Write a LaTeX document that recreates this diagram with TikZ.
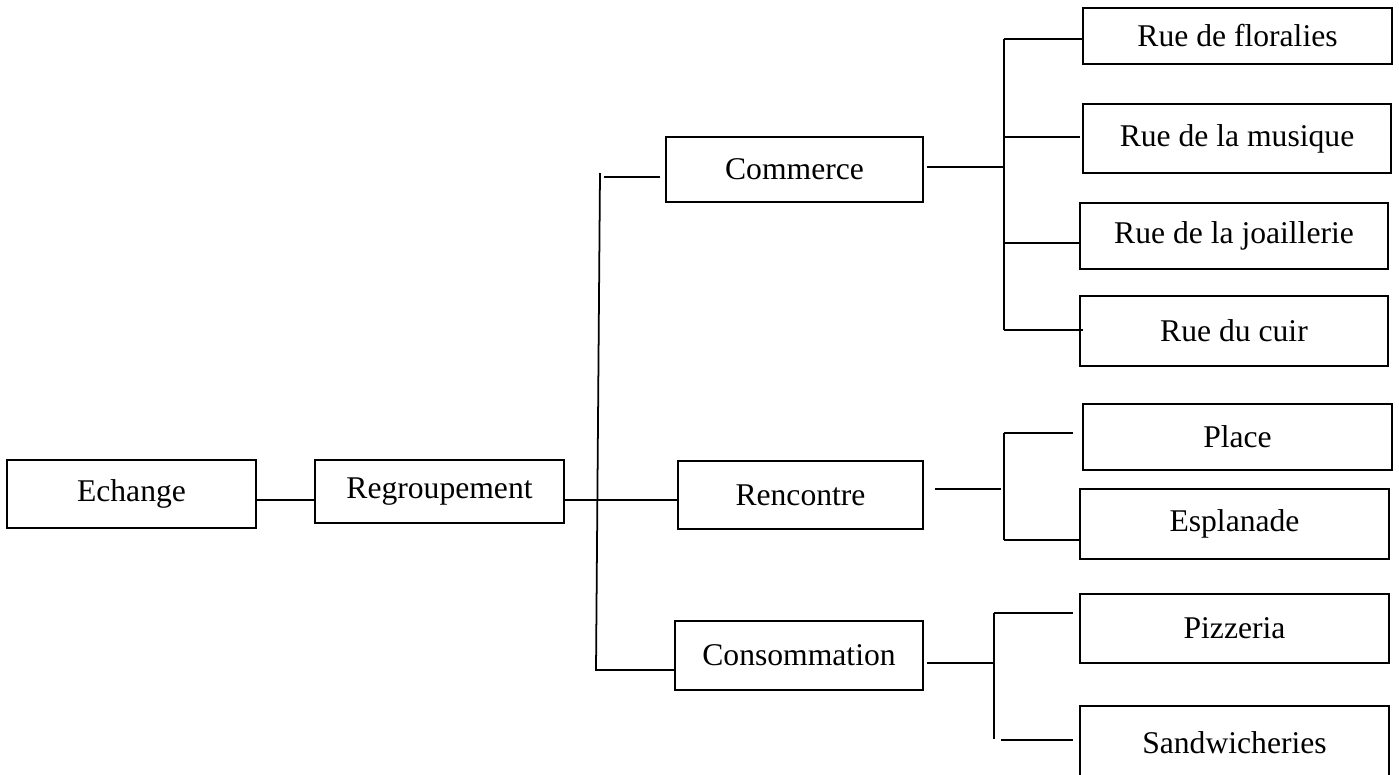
\documentclass[tikz,border=0pt]{standalone}
\usepackage{fontspec}
\setmainfont{Liberation Serif}
\tikzstyle{tBox} = [rectangle, draw=black, line width=1pt, text centered, inner sep=0pt, font=\fontsize{18}{22}\selectfont]
\tikzstyle{tLine} = [line width=1pt]

\begin{document}
\begin{tikzpicture}[x=0.02cm, y=-0.02cm]
    \useasboundingbox (0,0) rectangle (1399,774);

    \node (echange) [tBox, minimum width=4.98cm, minimum height=1.36cm] at (131.5,494) {Echange};
    \node (regroup) [tBox, minimum width=4.98cm, minimum height=1.26cm] at (439.5,491.5) {Regroupement};
    \node (commerce) [tBox, minimum width=5.14cm, minimum height=1.3cm] at (794.5,169.5) {Commerce};
    \node (rencontre) [tBox, minimum width=4.9cm, minimum height=1.36cm] at (800.5,495) {Rencontre};
    \node (consommation) [tBox, minimum width=4.96cm, minimum height=1.38cm] at (799,655.5) {Consommation};
    \node (floralies) [tBox, minimum width=6.18cm, minimum height=1.12cm] at (1237.5,36) {Rue de floralies};
    \node (musique) [tBox, minimum width=6.16cm, minimum height=1.38cm] at (1237,138.5) {Rue de la musique};
    \node (joaillerie) [tBox, minimum width=6.16cm, minimum height=1.32cm] at (1234,236) {Rue de la joaillerie};
    \node (cuir) [tBox, minimum width=6.16cm, minimum height=1.4cm] at (1234,331) {Rue du cuir};
    \node (place) [tBox, minimum width=6.18cm, minimum height=1.32cm] at (1237.5,437) {Place};
    \node (esplanade) [tBox, minimum width=6.18cm, minimum height=1.4cm] at (1234.5,524) {Esplanade};
    \node (pizzeria) [tBox, minimum width=6.18cm, minimum height=1.38cm] at (1234.5,628.5) {Pizzeria};
    \node (sandwich) [tBox, minimum width=6.18cm, minimum height=1.48cm] at (1234.5,743) {Sandwicheries};

    \coordinate (spineTop) at (600,173);
    \coordinate (spineBot) at (596,670);
    \coordinate (cmStub) at (604,177);
    \coordinate (cmOut) at (927,167);
    \coordinate (cmTop) at (1004,39);
    \coordinate (cmBot) at (1004,330);
    \coordinate (rcOut) at (935,489);
    \coordinate (rcTop) at (1004,433);
    \coordinate (rcBot) at (1004,540);
    \coordinate (csOut) at (927,663);
    \coordinate (csTop) at (994,613);
    \coordinate (csBot) at (994,739);

    \draw [tLine] (echange.east |- 0,500) -- (regroup.west |- 0,500);
    \draw [tLine] (regroup.east |- 0,500) -- (rencontre.west |- 0,500);
    \draw [tLine] (spineTop) -- (spineBot) -- (consommation.west |- spineBot);
    \draw [tLine] (cmStub) -- (660,177);

    \draw [tLine] (cmOut) -- (cmTop |- cmOut);
    \draw [tLine] (cmTop) -- (cmBot);
    \draw [tLine] (cmTop) -- (floralies.west |- cmTop);
    \draw [tLine] (cmTop |- 0,137) -- (1080,137);
    \draw [tLine] (cmTop |- 0,243) -- (joaillerie.west |- 0,243);
    \draw [tLine] (cmBot) -- (1083,330);

    \draw [tLine] (rcOut) -- (1001,489);
    \draw [tLine] (rcTop) -- (rcBot);
    \draw [tLine] (rcTop) -- (1073,433);
    \draw [tLine] (rcBot) -- (esplanade.west |- rcBot);

    \draw [tLine] (csOut) -- (csTop |- csOut);
    \draw [tLine] (csTop) -- (csBot);
    \draw [tLine] (csTop) -- (1073,613);
    \draw [tLine] (1001,740) -- (1073,740);
\end{tikzpicture}
\end{document}
